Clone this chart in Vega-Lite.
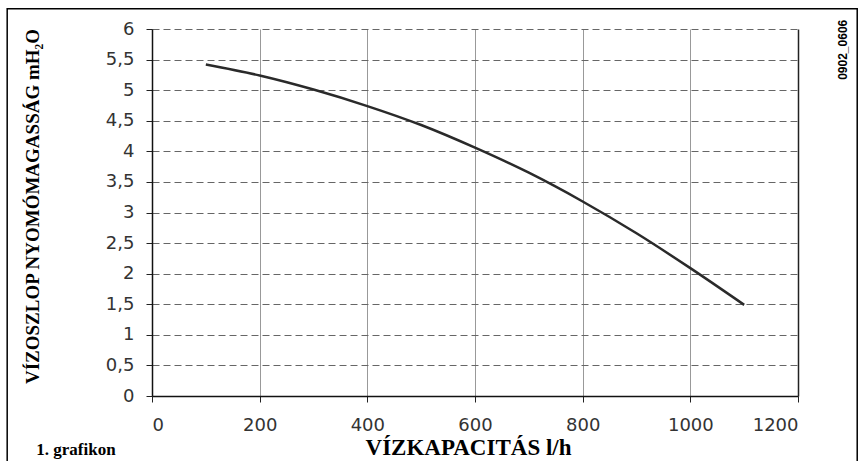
{
  "$schema": "https://vega.github.io/schema/vega-lite/v6.json",
  "autosize": {"type": "none"},
  "padding": {"left": 152, "top": 29, "right": 60, "bottom": 65},
  "width": 646,
  "height": 367,
  "background": "white",
  "config": {"view": {"stroke": null}},
  "layer": [
    {
      "data": {"values": [
        {"q": 100, "h": 5.42},
        {"q": 200, "h": 5.24},
        {"q": 300, "h": 5.01},
        {"q": 400, "h": 4.74},
        {"q": 500, "h": 4.43},
        {"q": 600, "h": 4.06},
        {"q": 700, "h": 3.65},
        {"q": 800, "h": 3.18},
        {"q": 900, "h": 2.66},
        {"q": 1000, "h": 2.09},
        {"q": 1100, "h": 1.49}
      ]},
      "mark": {"type": "line", "color": "#2a2a2a", "strokeWidth": 2.5, "interpolate": "monotone"},
      "encoding": {
        "x": {
          "field": "q", "type": "quantitative",
          "scale": {"domain": [0, 1200], "nice": false},
          "axis": {
            "tickCount": 6,
            "format": "d",
            "title": "VÍZKAPACITÁS  l/h",
            "titleFont": "Liberation Serif", "titleFontSize": 23, "titleFontWeight": "bold", "titleColor": "black",
            "titleX": 316, "titleY": 58, "titleBaseline": "alphabetic", "titleAlign": "center",
            "labelFont": "DejaVu Sans", "labelFontSize": 18, "labelColor": "#333", "labelPadding": 14,
            "labelOverlap": false,
            "tickSize": 6, "tickColor": "#222", "domainColor": "#111", "domainWidth": 1.5,
            "grid": true,
            "gridColor": {"condition": {"test": "datum.value == 1200", "value": "#222"}, "value": "#999"},
            "gridWidth": {"condition": {"test": "datum.value == 1200", "value": 1.5}, "value": 1}
          }
        },
        "y": {
          "field": "h", "type": "quantitative",
          "scale": {"domain": [0, 6], "nice": false},
          "axis": {
            "tickCount": 12,
            "labelExpr": "replace(format(datum.value, '~g'), '.', ',')",
            "labelOverlap": false,
            "title": "VÍZOSZLOP NYOMÓMAGASSÁG  mH₂O",
            "titleFont": "Liberation Serif", "titleFontSize": 19, "titleFontWeight": "bold", "titleColor": "black",
            "titleX": -114, "titleY": 177, "titleAngle": 270, "titleAlign": "center", "titleBaseline": "alphabetic",
            "labelFont": "DejaVu Sans", "labelFontSize": 18, "labelColor": "#333", "labelPadding": 12,
            "tickSize": 6, "tickColor": "#222", "domainColor": "#111", "domainWidth": 1.5,
            "grid": true, "gridColor": "#666", "gridDash": [7, 4], "gridWidth": 1
          }
        }
      }
    },
    {
      "data": {"values": [{"frame": "outer"}]},
      "mark": {"type": "rect", "fill": null, "stroke": "black", "strokeWidth": 1.5, "clip": false},
      "encoding": {
        "x": {"datum": -269, "type": "quantitative"},
        "x2": {"datum": 1310},
        "y": {"datum": 6.33, "type": "quantitative"},
        "y2": {"datum": -1.25}
      }
    },
    {
      "data": {"values": [{"label": "1. grafikon"}]},
      "mark": {"type": "text", "font": "Liberation Serif", "fontWeight": "bold", "fontSize": 17, "color": "black", "align": "left", "baseline": "alphabetic", "clip": false},
      "encoding": {
        "x": {"datum": -215, "type": "quantitative"},
        "y": {"datum": -0.97, "type": "quantitative"},
        "text": {"field": "label"}
      }
    },
    {
      "data": {"values": [{"label": "0902_0606"}]},
      "mark": {"type": "text", "font": "Liberation Sans", "fontWeight": "bold", "fontSize": 12, "color": "black", "angle": 270, "align": "center", "baseline": "middle", "clip": false},
      "encoding": {
        "x": {"datum": 1284, "type": "quantitative"},
        "y": {"datum": 5.66, "type": "quantitative"},
        "text": {"field": "label"}
      }
    }
  ]
}
